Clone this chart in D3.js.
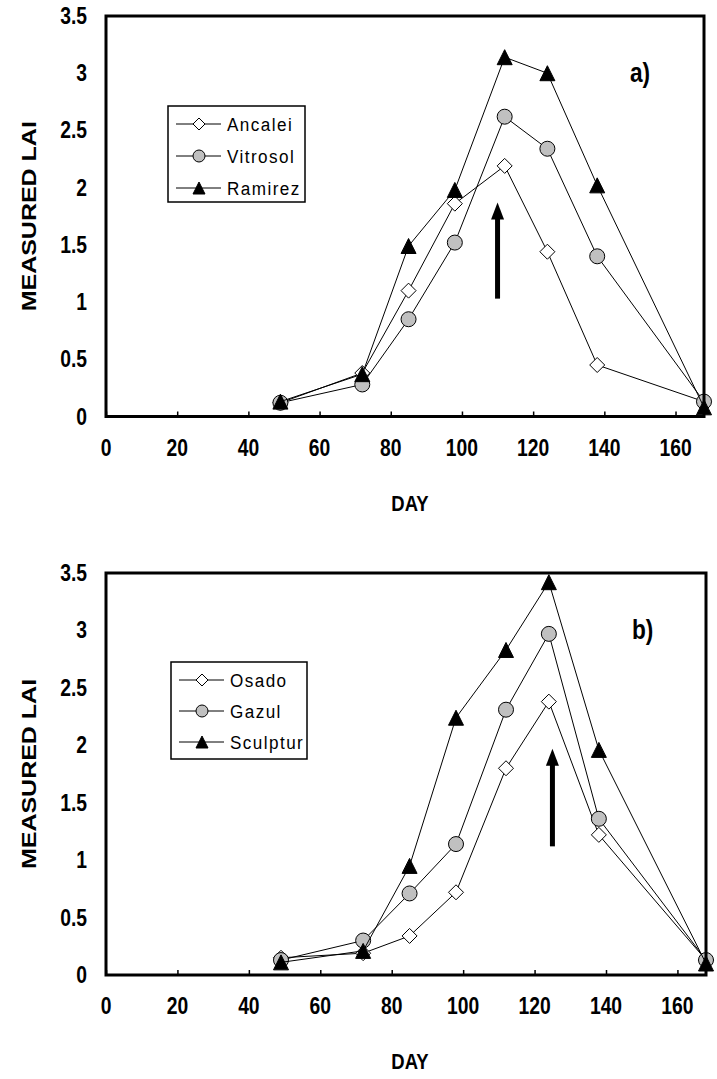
<!DOCTYPE html>
<html>
<head>
<meta charset="utf-8">
<script src="https://cdn.jsdelivr.net/npm/d3@7"></script>
<style>
  body { margin: 0; background: #fff; }
  svg { display: block; }
  text { font-family: Arial, "Liberation Sans", sans-serif; fill: #000; }
</style>
</head>
<body>
<script>
// Sampling days (day of year)
const days = [49, 72, 85, 98, 112, 124, 138, 168];

// Panel a) measured LAI
const ancalei  = [0.12, 0.38, 1.10, 1.86, 2.19, 1.44, 0.45, 0.13];
const vitrosol = [0.12, 0.28, 0.85, 1.52, 2.62, 2.34, 1.40, 0.13];
const ramirez  = [0.13, 0.37, 1.49, 1.98, 3.14, 3.00, 2.02, 0.08];

// Panel b) measured LAI
const osado    = [0.15, 0.19, 0.34, 0.72, 1.80, 2.38, 1.22, 0.13];
const gazul    = [0.13, 0.30, 0.71, 1.14, 2.31, 2.97, 1.36, 0.13];
const sculptur = [0.11, 0.21, 0.95, 2.24, 2.83, 3.42, 1.96, 0.10];

// Arrows: [day, LAI at tail, LAI at head]
const arrowA = [110, 1.03, 1.87];
const arrowB = [125, 1.12, 1.97];

const xTicks = [0, 20, 40, 60, 80, 100, 120, 140, 160];
const yTicks = [0, 0.5, 1, 1.5, 2, 2.5, 3, 3.5];
const xDomain = [0, 168];
const yDomain = [0, 3.5];

const W = 717, H = 1079;
const svg = d3.select("body").append("svg").attr("width", W).attr("height", H);

// narrow, tall bold lettering used for axis text
const SX = 0.84;

const markerStyles = [
  { shape: "diamond",  fill: "#fff" },
  { shape: "circle",   fill: "#c0c0c0" },
  { shape: "triangle", fill: "#000" }
];

function markerPath(shape, s) {
  if (shape === "diamond") {
    const h = s / 2;
    return `M0,${-h}L${h},0L0,${h}L${-h},0Z`;
  }
  if (shape === "triangle") {
    const h = s / 2;
    return `M0,${-h}L${h},${h}L${-h},${h}Z`;
  }
  return d3.symbol(d3.symbolCircle, Math.PI * (s / 2) * (s / 2))();
}

function narrowText(g, x, y, str, size, anchor) {
  return g.append("text")
    .attr("transform", `translate(${x},${y}) scale(${SX},1)`)
    .attr("text-anchor", anchor)
    .style("font-size", size + "px").style("font-weight", "bold")
    .text(str);
}

function drawPanel(cfg) {
  const g = svg.append("g");
  const x = d3.scaleLinear().domain(xDomain).range([cfg.left, cfg.right]);
  const y = d3.scaleLinear().domain(yDomain).range([cfg.bottom, cfg.top]);

  // x axis ticks point inward
  const xAxis = d3.axisBottom(x).tickValues(xTicks).tickSize(-5).tickFormat("");
  const xa = g.append("g").attr("transform", `translate(0,${cfg.bottom})`).call(xAxis);
  xa.select(".domain").remove();
  xa.selectAll(".tick line").attr("stroke", "#000").attr("stroke-width", 1.5);

  // tick labels
  xTicks.forEach(d => narrowText(g, x(d), cfg.bottom + 39, d, 23, "middle"));
  yTicks.forEach(d => narrowText(g, cfg.left - 19, y(d) + 8, d, 23, "end"));

  // axis titles
  narrowText(g, 410, cfg.bottom + 94, "DAY", 22, "middle");
  g.append("text")
    .attr("transform", `translate(36,${(cfg.top + cfg.bottom) / 2}) rotate(-90) scale(1,${SX})`)
    .attr("text-anchor", "middle")
    .style("font-size", "25px").style("font-weight", "bold")
    .text("MEASURED LAI");

  // series
  const line = d3.line().x(d => x(d[0])).y(d => y(d[1]));
  cfg.series.forEach((vals, i) => {
    const pts = days.map((d, j) => [d, vals[j]]);
    g.append("path").attr("d", line(pts))
      .attr("fill", "none").attr("stroke", "#000").attr("stroke-width", 1);
    g.selectAll(null).data(pts).join("path")
      .attr("transform", d => `translate(${x(d[0])},${y(d[1])})`)
      .attr("d", markerPath(markerStyles[i].shape, 15))
      .attr("fill", markerStyles[i].fill)
      .attr("stroke", "#000").attr("stroke-width", 1);
  });

  // arrow
  const ax = x(cfg.arrow[0]);
  const yTail = y(cfg.arrow[1]), yHead = y(cfg.arrow[2]);
  g.append("line")
    .attr("x1", ax).attr("x2", ax).attr("y1", yTail).attr("y2", yHead + 14)
    .attr("stroke", "#000").attr("stroke-width", 5);
  g.append("path")
    .attr("d", `M${ax},${yHead}L${ax + 6.5},${yHead + 17}L${ax - 6.5},${yHead + 17}Z`)
    .attr("fill", "#000");

  // plot frame
  g.append("rect")
    .attr("x", cfg.left).attr("y", cfg.top)
    .attr("width", cfg.right - cfg.left).attr("height", cfg.bottom - cfg.top)
    .attr("fill", "none").attr("stroke", "#000").attr("stroke-width", 3);

  // panel tag
  narrowText(g, cfg.right - 74, cfg.top + 66, cfg.tag, 27, "start");

  // legend
  const L = cfg.legend;
  g.append("rect")
    .attr("x", L.x).attr("y", L.y).attr("width", L.w).attr("height", L.h)
    .attr("fill", "#fff").attr("stroke", "#000").attr("stroke-width", 1.5);
  cfg.names.forEach((name, i) => {
    const ry = L.y + 18 + i * L.step;
    g.append("line")
      .attr("x1", L.x + 8).attr("x2", L.x + 53).attr("y1", ry).attr("y2", ry)
      .attr("stroke", "#000").attr("stroke-width", 1);
    g.append("path")
      .attr("transform", `translate(${L.x + 31},${ry})`)
      .attr("d", markerPath(markerStyles[i].shape, 12))
      .attr("fill", markerStyles[i].fill)
      .attr("stroke", "#000").attr("stroke-width", 1);
    g.append("text")
      .attr("transform", `translate(${L.x + 59},${ry + 7}) scale(0.9,1)`)
      .style("font-size", "19px").style("letter-spacing", "1.6px")
      .text(name);
  });
}

drawPanel({
  left: 106, right: 704, top: 16, bottom: 416.5,
  series: [ancalei, vitrosol, ramirez],
  names: ["Ancalei", "Vitrosol", "Ramirez"],
  arrow: arrowA, tag: "a)",
  legend: { x: 168, y: 106, w: 137, h: 96, step: 32 }
});

drawPanel({
  left: 106, right: 706, top: 573, bottom: 975,
  series: [osado, gazul, sculptur],
  names: ["Osado", "Gazul", "Sculptur"],
  arrow: arrowB, tag: "b)",
  legend: { x: 171, y: 662, w: 136, h: 97, step: 31 }
});
</script>
</body>
</html>
